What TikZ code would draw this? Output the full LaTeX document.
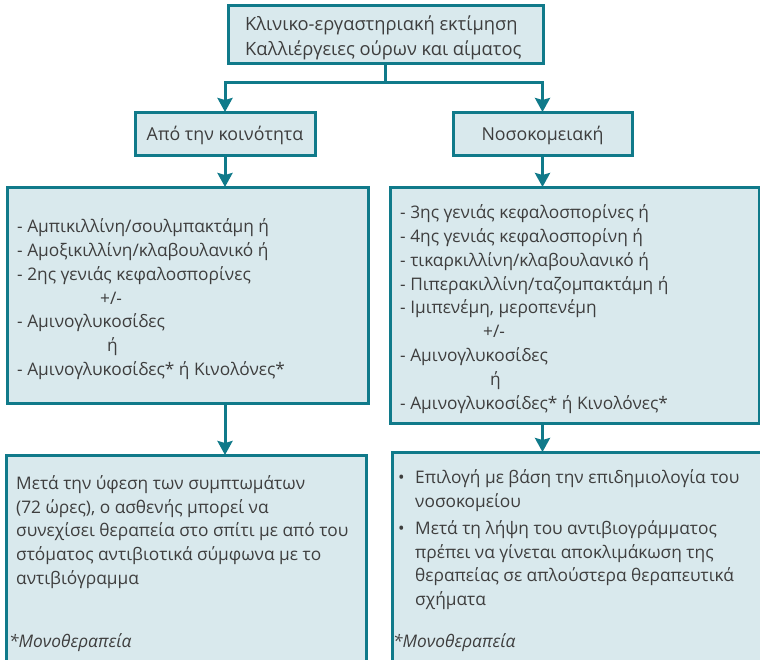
\documentclass[tikz,border=0pt]{standalone}
\usepackage{fontspec}
\setmainfont{Open Sans}
\usetikzlibrary{arrows.meta}
\definecolor{frame}{RGB}{16,122,138}
\definecolor{boxfill}{RGB}{217,233,237}
\definecolor{ink}{RGB}{62,62,62}
\tikzset{
  box/.style={draw=frame, fill=boxfill, line width=3pt, rectangle,
    inner sep=0pt, outer sep=0pt},
  txt/.style={text=ink, font=\fontsize{17.3}{23.8}\selectfont, inner sep=0pt,
    align=left},
  note/.style={txt, font=\fontsize{17.3}{23.8}\selectfont\itshape},
  flow/.style={draw=frame, line width=3pt,
    -{Stealth[width=15pt,length=14pt,inset=2pt]}},
  link/.style={draw=frame, line width=3pt}
}
\begin{document}
\begin{tikzpicture}[x=1pt,y=-1pt]
\useasboundingbox (0,0) rectangle (760,659);
\clip (0,0) rectangle (760,659);

% assessment box
\node[box, minimum width=315pt, minimum height=58pt] (top) at (385.5,34) {};
\node[txt, anchor=west, font=\fontsize{18.3}{25}\selectfont] (toptxt) at (245,38)
  {Κλινικο-εργαστηριακή εκτίμηση\\Καλλιέργειες ούρων και αίματος};

% setting of infection
\node[box, minimum width=180pt, minimum height=43pt] (comm) at (225,133.5) {};
\node[txt, font=\fontsize{17.8}{23.8}\selectfont] (commtxt) at (225,135) {Από την κοινότητα};
\node[box, minimum width=179pt, minimum height=43pt] (hosp) at (542.5,133.5) {};
\node[txt, font=\fontsize{17.8}{23.8}\selectfont] (hosptxt) at (542.5,135) {Νοσοκομειακή};

% initial regimens
\node[box, minimum width=361pt, minimum height=216pt] (lmid) at (187.5,295) {};
\node[txt, anchor=north west] (lmidtxt) at (17,218.5)
  {- Αμπικιλλίνη/σουλμπακτάμη ή\\
   - Αμοξικιλλίνη/κλαβουλανικό ή\\
   - 2ης γενιάς κεφαλοσπορίνες\\
   \hspace*{83pt}+/-\\
   - Αμινογλυκοσίδες\\
   \hspace*{90pt}ή\\
   - Αμινογλυκοσίδες* ή Κινολόνες*};

\node[box, minimum width=369pt, minimum height=236pt] (rmid) at (574.5,305) {};
\node[txt, anchor=north west] (rmidtxt) at (400,204.5)
  {- 3ης γενιάς κεφαλοσπορίνες ή\\
   - 4ης γενιάς κεφαλοσπορίνη ή\\
   - τικαρκιλλίνη/κλαβουλανικό ή\\
   - Πιπερακιλλίνη/ταζομπακτάμη ή\\
   - Ιμιπενέμη, μεροπενέμη\\
   \hspace*{83pt}+/-\\
   - Αμινογλυκοσίδες\\
   \hspace*{90pt}ή\\
   - Αμινογλυκοσίδες* ή Κινολόνες*};

% follow-up
\node[box, anchor=north west, minimum width=360pt, minimum height=260pt] (lbot) at (6,455) {};
\node[txt, anchor=north west, font=\fontsize{17.3}{23.6}\selectfont] (lbottxt) at (16,475.5)
  {Μετά την ύφεση των συμπτωμάτων\\
   (72 ώρες), ο ασθενής μπορεί να\\
   συνεχίσει θεραπεία στο σπίτι με από του\\
   στόματος αντιβιοτικά σύμφωνα με το\\
   αντιβιόγραμμα};
\node[note, anchor=west] (lnote) at (9,643) {*Μονοθεραπεία};

\node[box, anchor=north west, minimum width=380pt, minimum height=260pt] (rbot) at (392,452) {};
\node[txt, anchor=north west] (rbottxt) at (398,469.5)
  {\makebox[17pt][l]{•}Επιλογή με βάση την επιδημιολογία του\\
   \hspace*{17pt}νοσοκομείου\\[3pt]
   \makebox[17pt][l]{•}Μετά τη λήψη του αντιβιογράμματος\\
   \hspace*{17pt}πρέπει να γίνεται αποκλιμάκωση της\\
   \hspace*{17pt}θεραπείας σε απλούστερα θεραπευτικά\\
   \hspace*{17pt}σχήματα};
\node[note, anchor=west] (rnote) at (393,643) {*Μονοθεραπεία};

% connectors
\coordinate (split) at (385.5,82);
\draw[link] (top.south) -- (split);
\draw[flow] (split) -| (comm.north);
\draw[flow] (split) -| (hosp.north);
\draw[flow] (comm.south) -- (comm.south |- lmid.north);
\draw[flow] (hosp.south) -- (hosp.south |- rmid.north);
\draw[flow] (comm.south |- lmid.south) -- (comm.south |- lbot.north);
\draw[flow] (hosp.south |- rmid.south) -- (hosp.south |- rbot.north);
\end{tikzpicture}
\end{document}
